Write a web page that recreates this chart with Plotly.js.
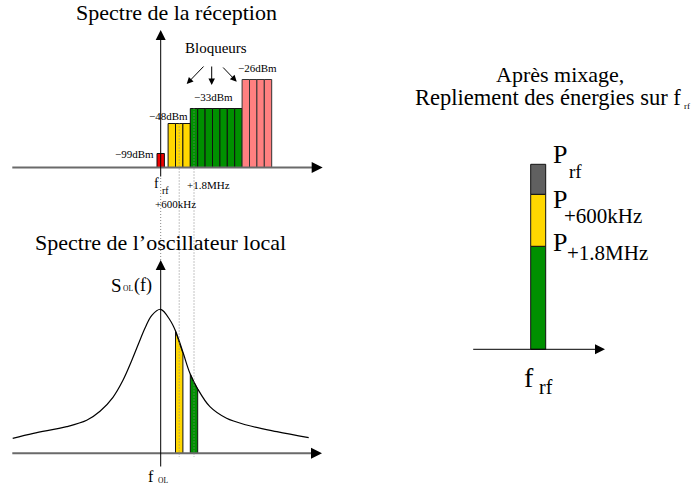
<!DOCTYPE html>
<html><head><meta charset="utf-8">
<script src="https://cdn.plot.ly/plotly-3.0.1.min.js"></script>
<style>html,body{margin:0;padding:0;background:#fff;}#chart{width:693px;height:490px;}</style>
</head><body><div id="chart"></div>
<script>
// ---- Received spectrum (channel index relative to f_rf, schematic level) ----
const rfChannels = [0];
const rfLevel = [14];
const adj600Channels = [1.5, 2.5, 3.5];
const adj600Level = [44, 44, 44];
const adj18Channels = [4.5, 5.5, 6.5, 7.5, 8.5, 9.5, 10.5];
const adj18Level = [59, 59, 59, 59, 59, 59, 59];
const farChannels = [11.5, 12.5, 13.5, 14.5];
const farLevel = [88, 88, 88, 88];
const powerLabels = ['−99dBm', '−48dBm', '−33dBm', '−26dBm'];
const offsetLabels = ['+600kHz', '+1.8MHz'];

// ---- Local oscillator spectrum S_OL(f) ----
const loFreq  = [-20, -17.2, -12.7, -10, -8.2, -6.45, -5.1, -3.9, -3, -2.1, -1.2, 0, 1.25, 2.05, 3.05, 3.95, 4.95, 6.65, 8.9, 11.6, 15.7, 20];
const loLevel = [15, 20, 26.6, 33, 42, 56, 73, 93, 109.5, 125.5, 138, 144, 133.3, 121.6, 100, 80, 65, 46.6, 35, 28.3, 21.6, 15.6];
const slice600Freq  = [2, 2, 2.5, 3, 3];
const slice600Level = [0, 122, 111, 100, 0];
const slice18Freq  = [4, 4, 4.5, 5, 5];
const slice18Level = [0, 79, 71, 64, 0];

// ---- After mixing: folded energies on f_rf (bottom to top) ----
const foldedSubs  = ['+1.8MHz', '+600kHz', 'rf'];
const foldedPower = [103, 52, 30];

// ---- styling / layout constants ----
const W = 693, H = 490;
const FONT = 'Liberation Serif, Times New Roman, serif';
const C = {red: '#ee0000', gold: '#ffd700', green: '#009000', pink: '#ff8080', gray: '#606060'};
const X = p => p / W, Y = p => 1 - p / H;
const x0L = 160.7, sL = 7.4, baseTop = 167.5, baseBot = 453.3;
const x0R = 538.2, sR = 7.5, baseR = 349.3;

const barLine = {color: '#111', width: 1};
const traces = [
  {type: 'bar', x: rfChannels, y: rfLevel, width: 1, marker: {color: C.red, line: barLine}, xaxis: 'x', yaxis: 'y'},
  {type: 'bar', x: adj600Channels, y: adj600Level, width: 1, marker: {color: C.gold, line: barLine}, xaxis: 'x', yaxis: 'y'},
  {type: 'bar', x: adj18Channels, y: adj18Level, width: 1, marker: {color: C.green, line: barLine}, xaxis: 'x', yaxis: 'y'},
  {type: 'bar', x: farChannels, y: farLevel, width: 1, marker: {color: C.pink, line: {color: '#333', width: 1}}, xaxis: 'x', yaxis: 'y'},
  {type: 'scatter', mode: 'lines', x: slice600Freq, y: slice600Level, fill: 'toself', fillcolor: C.gold, line: {color: '#111', width: 1}, xaxis: 'x', yaxis: 'y2'},
  {type: 'scatter', mode: 'lines', x: slice18Freq, y: slice18Level, fill: 'toself', fillcolor: C.green, line: {color: '#111', width: 1}, xaxis: 'x', yaxis: 'y2'},
  {type: 'scatter', mode: 'lines', x: loFreq, y: loLevel, line: {color: '#000', width: 1.2, shape: 'spline', smoothing: 1}, xaxis: 'x', yaxis: 'y2'}
];
const stackColors = [C.green, C.gold, C.gray];
let base = 0;
foldedPower.forEach((v, i) => {
  traces.push({type: 'bar', x: [0], y: [v], base: [base], width: 2, marker: {color: stackColors[i], line: barLine}, xaxis: 'x2', yaxis: 'y3'});
  base += v;
});

const ax = (r) => ({visible: false, range: r, domain: [0, 1], fixedrange: true});
const layout = {
  width: W, height: H, margin: {l: 0, r: 0, t: 0, b: 0},
  paper_bgcolor: '#fff', plot_bgcolor: 'rgba(0,0,0,0)',
  showlegend: false, barmode: 'overlay', hovermode: false,
  xaxis: ax([-x0L / sL, (W - x0L) / sL]),
  yaxis: Object.assign(ax([baseTop - H, baseTop]), {anchor: 'x'}),
  yaxis2: Object.assign(ax([baseBot - H, baseBot]), {anchor: 'x'}),
  xaxis2: Object.assign(ax([-x0R / sR, (W - x0R) / sR]), {anchor: 'y3'}),
  yaxis3: Object.assign(ax([baseR - H, baseR]), {anchor: 'x2'}),
  shapes: [], annotations: []
};

// axis lines
const hline = (x0, x1, y, color, w) => ({type: 'line', xref: 'paper', yref: 'paper', x0: X(x0), x1: X(x1), y0: Y(y), y1: Y(y), line: {color, width: w}});
layout.shapes.push(hline(12.3, 316, baseTop, '#6a6a6a', 2));
layout.shapes.push(hline(12.3, 316, baseBot, '#6a6a6a', 2));
// dotted guide lines (data coords of the top panel)
const dot = (xc, y0, y1) => ({type: 'line', xref: 'x', yref: 'y', x0: xc, x1: xc, y0, y1, line: {color: '#888', width: 1, dash: '1px,2px'}});
layout.shapes.push(dot(rfChannels[0], baseTop - 178, baseTop - 260));
layout.shapes.push(dot(adj600Channels[1], adj600Level[1], baseTop - 457));
layout.shapes.push(dot(adj18Channels[0], adj18Level[0], baseTop - 457));

const arrow = (tx, ty, dx, dy, size, color) => ({xref: 'paper', yref: 'paper', x: X(tx), y: Y(ty), ax: dx, ay: dy, text: '', showarrow: true, arrowhead: 2, arrowsize: size, arrowwidth: 1, arrowcolor: color || '#000', standoff: 0, startstandoff: 0});
layout.annotations.push(arrow(x0L, 30, 0, 148, 2));
layout.annotations.push(arrow(x0L, 260, 0, 208, 2));
layout.annotations.push(arrow(322.7, baseTop, -10, 0, 2.2));
layout.annotations.push(arrow(322, baseBot, -10, 0, 2.2));
layout.annotations.push(arrow(605, baseR, -133.3, 0, 2));
// "Bloqueurs" arrows
layout.annotations.push(arrow(186.7, 84, 18.3, -19, 1.3));
layout.annotations.push(arrow(211.7, 85, 0, -20, 1.3));
layout.annotations.push(arrow(236.7, 81.7, -15, -15.7, 1.3));

const T = (text, cx, bl, size, xanchor) => ({text, xref: 'paper', yref: 'paper', x: X(cx), y: Y(bl - 0.34 * size), xanchor: xanchor || 'center', yanchor: 'middle', showarrow: false, borderpad: 0, font: {family: FONT, size, color: '#000'}});
const A = layout.annotations;
A.push(T('Spectre de la réception', 176.2, 20, 22));
A.push(T('Spectre de l’oscillateur local', 160.8, 250, 22));
A.push(T('Après mixage,', 559.7, 81.7, 22));
A.push(T('Repliement des énergies sur f', 547.5, 105, 22.5));
A.push(T('rf', 683, 109, 9, 'left'));
A.push(T('Bloqueurs', 216.4, 53.3, 15));
A.push(T(powerLabels[0], 155, 157.3, 11, 'right'));
A.push(T(powerLabels[1], 168.8, 120, 11));
A.push(T(powerLabels[2], 213.3, 101, 11));
A.push(T(powerLabels[3], 257.2, 71.7, 11));
A.push(T('f', 156, 188.3, 14));
A.push(T('rf', 165, 194, 10));
A.push(T(offsetLabels[1], 208, 188.3, 11));
A.push(T(offsetLabels[0], 175.5, 207.3, 11));
A.push(T('S', 116.7, 291.7, 19));
A.push(T('OL', 128.3, 291.5, 7.5));
A.push(T('(f)', 142.5, 291.7, 18));
A.push(T('f', 151, 481.7, 16));
A.push(T('OL', 162.5, 483.3, 7.5));
// P labels for the folded stack
const pBase = [251.7, 208.3, 163.3];
foldedSubs.forEach((s, i) => {
  A.push(T('P', 560.3, pBase[i], 26));
});
A.push(T(foldedSubs[2], 575.5, 178, 19));
A.push(T(foldedSubs[1], 602.5, 223.5, 21));
A.push(T(foldedSubs[0], 607.5, 260.5, 21));
A.push(T('f', 529, 386.7, 28));
A.push(T('rf', 545.5, 393.3, 20));

Plotly.newPlot('chart', traces, layout, {staticPlot: true, displayModeBar: false});
</script></body></html>
